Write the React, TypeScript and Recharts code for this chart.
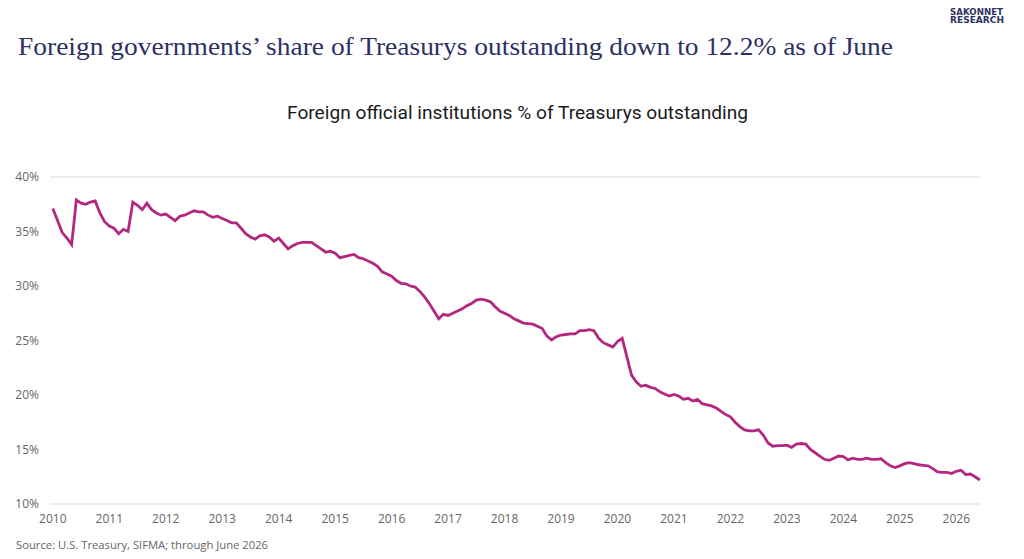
import React from 'react';
import { LineChart, Line, XAxis, YAxis, CartesianGrid } from 'recharts';

// Foreign official holdings as % of Treasurys outstanding, monthly (Jan..Dec)
const share2010 = [37.1, 36.0, 34.9, 34.4, 33.8, 37.9, 37.6, 37.5, 37.7, 37.8, 36.7, 35.9];
const share2011 = [35.5, 35.3, 34.8, 35.2, 35.0, 37.7, 37.4, 37.0, 37.6, 37.0, 36.7, 36.5];
const share2012 = [36.6, 36.3, 36.0, 36.4, 36.5, 36.7, 36.9, 36.8, 36.8, 36.5, 36.3, 36.4];
const share2013 = [36.2, 36.0, 35.8, 35.8, 35.3, 34.8, 34.5, 34.3, 34.6, 34.7, 34.5, 34.1];
const share2014 = [34.4, 33.9, 33.4, 33.7, 33.9, 34.0, 34.0, 34.0, 33.7, 33.4, 33.1, 33.2];
const share2015 = [33.0, 32.6, 32.7, 32.8, 32.9, 32.6, 32.5, 32.3, 32.1, 31.8, 31.3, 31.1];
const share2016 = [30.9, 30.5, 30.25, 30.2, 30.0, 29.9, 29.5, 29.0, 28.4, 27.7, 27.0, 27.4];
const share2017 = [27.3, 27.5, 27.7, 27.9, 28.2, 28.4, 28.7, 28.8, 28.7, 28.55, 28.1, 27.7];
const share2018 = [27.5, 27.3, 27.0, 26.8, 26.6, 26.55, 26.5, 26.3, 26.1, 25.4, 25.05, 25.35];
const share2019 = [25.5, 25.55, 25.6, 25.6, 25.9, 25.9, 26.0, 25.9, 25.2, 24.8, 24.6, 24.4];
const share2020 = [24.9, 25.2, 23.5, 21.8, 21.2, 20.8, 20.9, 20.7, 20.6, 20.3, 20.1, 19.9];
const share2021 = [20.05, 19.9, 19.6, 19.7, 19.45, 19.6, 19.2, 19.1, 19.0, 18.8, 18.5, 18.2];
const share2022 = [18.0, 17.5, 17.1, 16.8, 16.7, 16.7, 16.8, 16.3, 15.6, 15.3, 15.35, 15.35];
const share2023 = [15.4, 15.2, 15.5, 15.55, 15.5, 15.0, 14.7, 14.4, 14.1, 14.0, 14.2, 14.4];
const share2024 = [14.35, 14.05, 14.2, 14.1, 14.1, 14.2, 14.1, 14.1, 14.15, 13.8, 13.5, 13.35];
const share2025 = [13.5, 13.7, 13.8, 13.7, 13.6, 13.55, 13.5, 13.25, 12.95, 12.9, 12.9, 12.8];
const share2026 = [13.0, 13.1, 12.7, 12.75, 12.5, 12.2];

const years = [
  2010, 2011, 2012, 2013, 2014, 2015, 2016, 2017, 2018,
  2019, 2020, 2021, 2022, 2023, 2024, 2025, 2026,
];
const sharesByYear = [
  share2010, share2011, share2012, share2013, share2014, share2015, share2016, share2017, share2018,
  share2019, share2020, share2021, share2022, share2023, share2024, share2025, share2026,
];
const pctTicks = [10, 15, 20, 25, 30, 35, 40];

const data = years.flatMap((yr, i) =>
  sharesByYear[i].map((v, m) => ({ t: yr + m / 12, share: v }))
);

const TICK_FONT = { fill: '#666666', fontSize: 12, fontFamily: "'Open Sans', sans-serif" };
const NAVY = '#2d3165';

export default function App() {
  return (
    <div style={{ position: 'absolute', left: 0, top: 0, width: 1024, height: 559, background: '#fff' }}>
      <svg width={1024} height={559} style={{ position: 'absolute', left: 0, top: 0 }}>
        <text x={18} y={55} fill={NAVY} fontSize={26} fontFamily="'Liberation Serif', serif"
          textLength={875} lengthAdjust="spacingAndGlyphs">
          Foreign governments’ share of Treasurys outstanding down to 12.2% as of June
        </text>
        <text x={950} y={15} fill={NAVY} fontSize={9} fontWeight={700}
          fontFamily="'DejaVu Sans', sans-serif" textLength={53} lengthAdjust="spacingAndGlyphs">
          SAKONNET
        </text>
        <text x={950} y={23} fill={NAVY} fontSize={9} fontWeight={700}
          fontFamily="'DejaVu Sans', sans-serif" textLength={54} lengthAdjust="spacingAndGlyphs">
          RESEARCH
        </text>
        <text x={287} y={119} fill="#1a1a1a" fontSize={18}
          fontFamily="'Liberation Sans Narrow', 'Roboto', sans-serif" textLength={461} lengthAdjust="spacingAndGlyphs">
          Foreign official institutions % of Treasurys outstanding
        </text>
        <text x={16} y={549} fill="#666666" fontSize={11.5} fontFamily="'Open Sans', sans-serif"
          textLength={252} lengthAdjust="spacingAndGlyphs">
          Source: U.S. Treasury, SIFMA; through June 2026
        </text>
      </svg>
      <div style={{ position: 'absolute', left: 0, top: 0 }}>
        <LineChart width={1024} height={559} data={data} margin={{ top: 177, right: 0, bottom: 25, left: 0 }}>
          <CartesianGrid vertical={false} stroke="#dcdcdc" strokeWidth={1.2} />
          <XAxis
            dataKey="t"
            type="number"
            domain={[2009.95, 2026.42]}
            ticks={years}
            tickFormatter={(v) => String(Math.round(v))}
            axisLine={false}
            tickLine={false}
            tick={TICK_FONT}
            tickMargin={4}
            height={30}
            interval={0}
          />
          <YAxis
            yAxisId="left"
            domain={[10, 40]}
            ticks={pctTicks}
            tickFormatter={(v) => `${v}%`}
            axisLine={false}
            tickLine={false}
            tick={TICK_FONT}
            tickMargin={5}
            width={50}
          />
          <YAxis
            yAxisId="right"
            orientation="right"
            domain={[10, 40]}
            ticks={pctTicks}
            tickFormatter={(v) => `${v}%`}
            axisLine={false}
            tickLine={false}
            tick={TICK_FONT}
            tickMargin={4}
            width={44}
          />
          <Line
            yAxisId="left"
            type="linear"
            dataKey="share"
            stroke="#b3277f"
            strokeWidth={2.8}
            dot={false}
            isAnimationActive={false}
          />
        </LineChart>
      </div>
    </div>
  );
}
